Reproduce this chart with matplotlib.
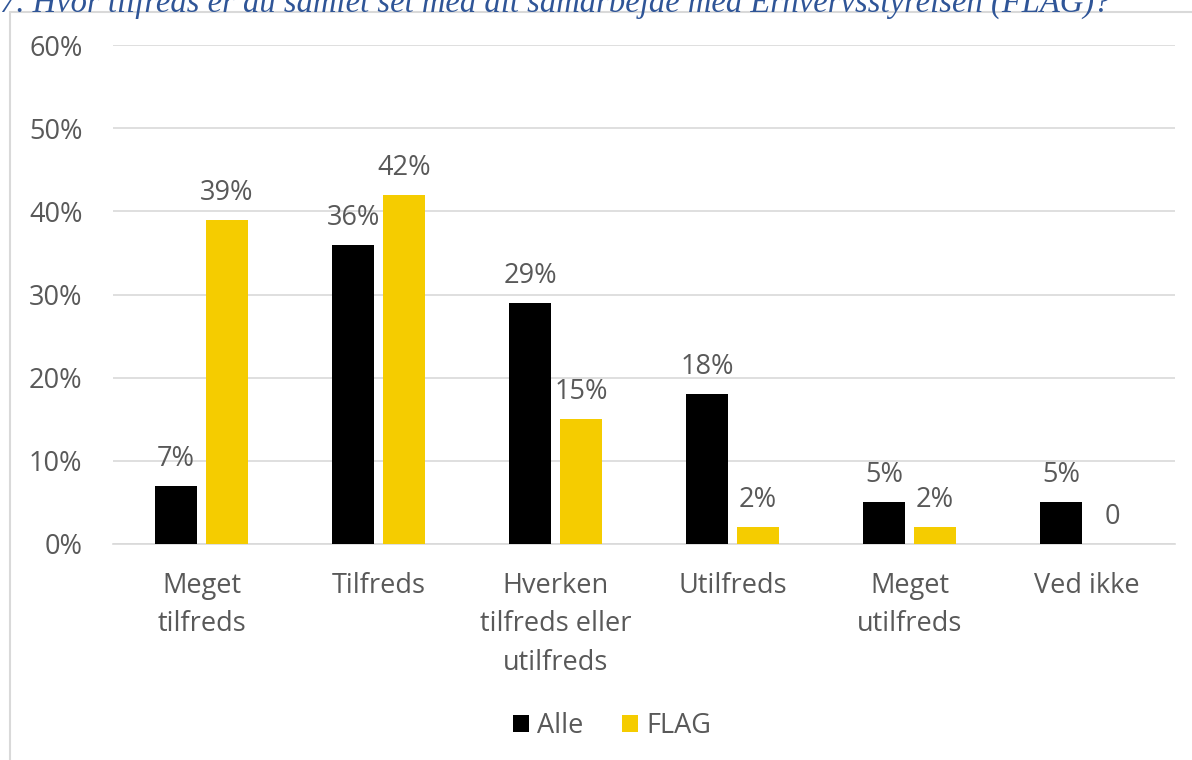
import numpy as np
import matplotlib
matplotlib.use('Agg')
import matplotlib.pyplot as plt
from matplotlib.patches import Rectangle

# --- data ---
categories = ['Meget\ntilfreds', 'Tilfreds', 'Hverken\ntilfreds eller\nutilfreds',
              'Utilfreds', 'Meget\nutilfreds', 'Ved ikke']
alle = [7, 36, 29, 18, 5, 5]
flag = [39, 42, 15, 2, 2, 0]
alle_labels = ['7%', '36%', '29%', '18%', '5%', '5%']
flag_labels = ['39%', '42%', '15%', '2%', '2%', '0']
yticks = [0, 10, 20, 30, 40, 50, 60]
title = '7. Hvor tilfreds er du samlet set med dit samarbejde med Erhvervsstyrelsen (FLAG)?'

plt.rcParams['font.family'] = ['Open Sans', 'DejaVu Sans']
grey = '#595959'
fs = 19.5

W, H = 1192, 760
fig = plt.figure(figsize=(W / 100, H / 100), dpi=100)

# chart border (cut at the right / bottom like the screenshot)
fig.patches.append(Rectangle((10 / W, -0.01), 1.0, 1 - 12 / H + 0.01, transform=fig.transFigure,
                             facecolor='none', edgecolor='#d9d9d9', linewidth=1.5))

# title (partly cut off at the top, as in the screenshot)
fig.text(0.0, 1 - 12 / H, title, family='Liberation Serif', style='italic',
         fontsize=23.5, color='#2f5597', va='baseline', ha='left')

ax = fig.add_axes([113 / W, 1 - 544 / H, (1175 - 113) / W, (544 - 45) / H])

x = np.arange(len(categories))
bw = 0.232
gap = 0.056
b1 = ax.bar(x - (bw + gap) / 2, alle, bw, color='black', label='Alle', zorder=3)
b2 = ax.bar(x + (bw + gap) / 2, flag, bw, color='#f5cc00', label='FLAG', zorder=3)

for bars, labs in [(b1, alle_labels), (b2, flag_labels)]:
    for r, lab in zip(bars, labs):
        ax.annotate(lab, (r.get_x() + r.get_width() / 2, r.get_height()),
                    xytext=(0, 13), textcoords='offset pixels', ha='center', va='bottom',
                    fontsize=fs, color=grey)

ax.set_xlim(-0.5, len(categories) - 0.5)
ax.set_ylim(0, 60)
ax.set_yticks(yticks)
ax.set_yticklabels([f'{t}%' for t in yticks])
ax.set_xticks(x)
ax.set_xticklabels(categories, linespacing=1.5)
ax.tick_params(axis='both', length=0, labelsize=fs, labelcolor=grey)
ax.tick_params(axis='x', pad=20)
ax.tick_params(axis='y', pad=22)
ax.grid(axis='y', color='#d9d9d9', linewidth=1.2, zorder=0)
for s in ['top', 'right', 'left']:
    ax.spines[s].set_visible(False)
ax.spines['bottom'].set_color('#d9d9d9')
ax.spines['bottom'].set_linewidth(1.2)

fig.legend(handles=[b1, b2], labels=['Alle', 'FLAG'], loc='center',
           bbox_to_anchor=(612 / W, 1 - 726 / H), ncol=2, frameon=False,
           fontsize=fs, labelcolor=grey, handlelength=0.6, handleheight=0.6,
           handletextpad=0.3, columnspacing=1.4)

fig.savefig('out.png', dpi=100)
